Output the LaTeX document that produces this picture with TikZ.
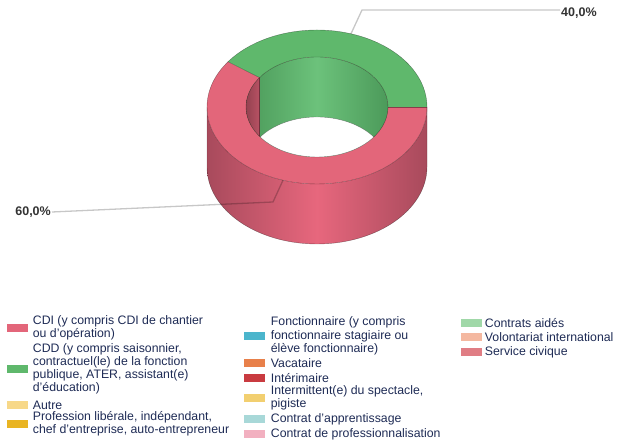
\documentclass[tikz,border=0pt]{standalone}
\usepackage{fontspec}
\setmainfont{Liberation Sans}
\usepackage{xcolor}
\usepackage{tikz}
\usetikzlibrary{positioning}

\definecolor{cdired}{HTML}{E3667A}
\definecolor{sidedark}{HTML}{A84A5C}
\definecolor{sidelight}{HTML}{E7677D}
\definecolor{cddgreen}{HTML}{5FB86C}
\definecolor{walldark}{HTML}{4C9A5A}
\definecolor{walllight}{HTML}{6CC27B}
\definecolor{rwall}{HTML}{B85264}
\definecolor{autre}{HTML}{F7D889}
\definecolor{liberal}{HTML}{E9B422}
\definecolor{fonct}{HTML}{4BB5CC}
\definecolor{vacat}{HTML}{E8804A}
\definecolor{interim}{HTML}{C93B40}
\definecolor{intermit}{HTML}{F2CF70}
\definecolor{apprent}{HTML}{A8D8D8}
\definecolor{profes}{HTML}{F2B0C0}
\definecolor{aides}{HTML}{A0D8A8}
\definecolor{volont}{HTML}{F4B8A0}
\definecolor{civique}{HTML}{E07D84}
\definecolor{legblue}{HTML}{1E2B55}
\definecolor{pctgray}{HTML}{333333}

\tikzset{
	swatch/.style={minimum width=21pt, minimum height=8pt, inner sep=0pt},
	legtext/.style={inner sep=0pt, align=left, text=legblue, font=\fontsize{12.3}{13.2}\selectfont},
	pctlabel/.style={inner sep=1pt, text=pctgray, font=\bfseries\fontsize{12.5}{14}\selectfont},
	leader/.style={draw=black, draw opacity=0.22, line width=1.3pt},
	rim/.style={draw=black, draw opacity=0.4, line width=0.4pt},
}

\begin{document}
\begin{tikzpicture}[x=1pt,y=1pt]
		\useasboundingbox (0,0) rectangle (635,443);
		%
		\begin{scope}[shift={(317,336)}]
		% outer wall
		\shade[left color=sidedark, right color=sidedark, middle color=sidelight]
			(-110,0) -- (-110,-60) arc[start angle=180, end angle=360, x radius=110, y radius=77]
			-- (110,0) arc[start angle=0, end angle=-180, x radius=110, y radius=77] -- cycle;
		% top of the ring
		\fill[cdired] (144:110 and 77) arc[start angle=144, end angle=360, x radius=110, y radius=77]
			-- (0:71 and 50) arc[start angle=0, end angle=144, x radius=71, y radius=50] -- cycle;
		\fill[cddgreen] (0:110 and 77) arc[start angle=0, end angle=144, x radius=110, y radius=77]
			-- (144:71 and 50) arc[start angle=144, end angle=0, x radius=71, y radius=50] -- cycle;
		% inner wall
		\begin{scope}
			\clip (0,0) ellipse[x radius=71, y radius=50];
			\shade[left color=walldark, right color=walldark, middle color=walllight] (-71,-50) rectangle (71,50);
			\shade[left color=rwall!80!black, right color=rwall] (-71,-50) rectangle (-57.44,50);
			\draw[rim] (144:71 and 50) -- ++(0,-60);
			\fill[white] (0,-60) ellipse[x radius=71, y radius=50];
			\draw[rim] (0,-60) ellipse[x radius=71, y radius=50];
		\end{scope}
		% edges
		\draw[rim] (0,0) ellipse[x radius=110, y radius=77];
		\draw[rim] (0,0) ellipse[x radius=71, y radius=50];
		\draw[rim] (-110,0) -- (-110,-60) arc[start angle=180, end angle=360, x radius=110, y radius=77] -- (110,0);
		\draw[rim] (0:71 and 50) -- (0:110 and 77);
		\draw[rim] (144:71 and 50) -- (144:110 and 77);
		%
		\coordinate (g-pt) at (72:110 and 77);
		\coordinate (r-pt) at (252:110 and 77);
		\end{scope}
		%
		\coordinate (g-knee) at (362,433);
		\coordinate (r-knee) at (273,241);
		\node[pctlabel, anchor=west] (lbl40) at (560,430) {40,0\%};
		\node[pctlabel, anchor=east] (lbl60) at (52,231) {60,0\%};
		\draw[leader] (g-pt) -- (g-knee) -- (g-knee -| lbl40.west);
		\draw[leader] (r-pt) -- (r-knee) -- (lbl60.east);
		%
		% legend, first column
		\node[swatch, fill=cdired] (sw1) at (17,115) {};
		\node[legtext, right=5pt of sw1] (tx1) {CDI (y compris CDI de chantier\\ou d'opération)};
		\node[swatch, fill=cddgreen] (sw2) at (17,74) {};
		\node[legtext, right=5pt of sw2] (tx2) {CDD (y compris saisonnier,\\contractuel(le) de la fonction\\publique, ATER, assistant(e)\\d'éducation)};
		\node[swatch, fill=autre] (sw3) at (17,38) {};
		\node[legtext, right=5pt of sw3] (tx3) {Autre};
		\node[swatch, fill=liberal] (sw4) at (17,19) {};
		\node[legtext, right=5pt of sw4] (tx4) {Profession libérale, indépendant,\\chef d'entreprise, auto-entrepreneur};
		%
		% second column
		\node[swatch, fill=fonct] (sw5) at (254,107) {};
		\node[legtext, right=6pt of sw5] (tx5) {Fonctionnaire (y compris\\fonctionnaire stagiaire ou\\élève fonctionnaire)};
		\node[swatch, fill=vacat] (sw6) at (254,80) {};
		\node[legtext, right=6pt of sw6] (tx6) {Vacataire};
		\node[swatch, fill=interim] (sw7) at (254,65) {};
		\node[legtext, right=6pt of sw7] (tx7) {Intérimaire};
		\node[swatch, fill=intermit] (sw8) at (254,45) {};
		\node[legtext, right=6pt of sw8] (tx8) {Intermittent(e) du spectacle,\\pigiste};
		\node[swatch, fill=apprent] (sw9) at (254,24) {};
		\node[legtext, right=6pt of sw9] (tx9) {Contrat d'apprentissage};
		\node[swatch, fill=profes] (sw10) at (254,9) {};
		\node[legtext, right=6pt of sw10] (tx10) {Contrat de professionnalisation};
		%
		% third column
		\node[swatch, fill=aides] (sw11) at (471,120) {};
		\node[legtext, right=3pt of sw11] (tx11) {Contrats aidés};
		\node[swatch, fill=volont] (sw12) at (471,106) {};
		\node[legtext, right=3pt of sw12] (tx12) {Volontariat international};
		\node[swatch, fill=civique] (sw13) at (471,91) {};
		\node[legtext, right=3pt of sw13] (tx13) {Service civique};
\end{tikzpicture}
\end{document}
